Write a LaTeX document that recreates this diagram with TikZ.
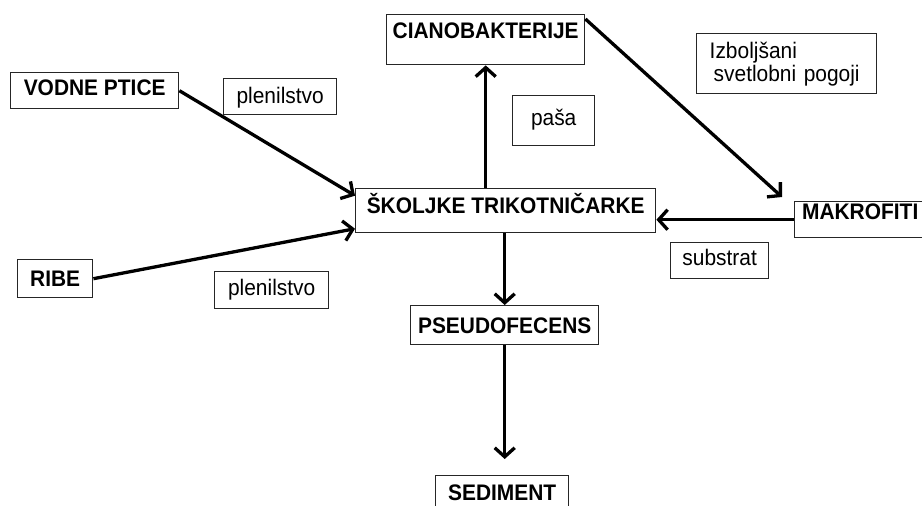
\documentclass[tikz,border=0pt]{standalone}
\usepackage{fontspec}
\setmainfont[FakeStretch=0.93]{Liberation Sans}
\usetikzlibrary{arrows.meta}

\begin{document}
\begin{tikzpicture}[x=1pt, y=-1pt, every node/.style={font=\fontsize{22.5}{23}\selectfont}]
    % Styles
    \tikzstyle{organism} = [rectangle, draw=black!85, line width=1.4pt, font=\fontsize{22.5}{23}\selectfont\bfseries, anchor=north west, inner xsep=0pt, inner ysep=0pt]
    \tikzstyle{relation} = [rectangle, draw=black!85, line width=1.4pt, anchor=north west, inner xsep=0pt, inner ysep=0pt]
    \tikzstyle{flow} = [-{Straight Barb[length=9pt,width=20pt]}, line width=3.3pt]

    \useasboundingbox (0,0) rectangle (922,506);
    \clip (0,0) rectangle (922,506);

    % Nodes
    \node[organism, minimum width=198pt, text height=24pt, text depth=26pt] (cyano) at (386,14) {CIANOBAKTERIJE};
    \node[organism, minimum width=168pt, text height=23pt, text depth=13pt] (birds) at (10,72) {VODNE PTICE};
    \node[organism, minimum width=300pt, text height=25pt, text depth=19pt] (shells) at (355,188) {ŠKOLJKE TRIKOTNIČARKE};
    \node[organism, minimum width=131pt, text height=18pt, text depth=18pt] (makro) at (794,201) {MAKROFITI};
    \node[organism, minimum width=75pt, text height=27pt, text depth=11pt] (fish) at (17,259) {RIBE};
    \node[organism, minimum width=188pt, text height=28pt, text depth=11pt] (pseudo) at (410,305) {PSEUDOFECENS};
    \node[organism, minimum width=133pt, text height=25pt, text depth=15pt] (sediment) at (435,475) {SEDIMENT};

    % Labels
    \node[relation, minimum width=113pt, text height=25pt, text depth=11pt] (plen1) at (223,78) {plenilstvo};
    \node[relation, minimum width=114pt, text height=24pt, text depth=13pt] (plen2) at (214,271) {plenilstvo};
    \node[relation, minimum width=82pt, text height=30pt, text depth=20pt] (pasa) at (512,95) {paša};
    \node[relation, minimum width=98pt, text height=23pt, text depth=13pt] (substrat) at (670,242) {substrat};
    \node[relation, inner xsep=13pt, text width=154pt, minimum height=60pt, align=left] (light) at (696,33) {Izboljšani\\\hspace{4pt}svetlobni pogoji};

    % Connections
    \draw[flow] (cyano.south |- shells.north) -- (cyano.south);
    \draw[flow] (birds.east) -- ([yshift=15pt]shells.west);
    \draw[flow] (fish.east) -- ([yshift=-18pt]shells.west);
    \draw[flow] ([yshift=-5pt]cyano.north east) -- ([xshift=-12pt,yshift=4pt]makro.north west);
    \draw[flow] (makro.west) -- (shells.east |- makro.west);
    \draw[flow] (pseudo.north |- shells.south) -- (pseudo.north);
    \draw[flow, shorten >=16pt] (pseudo.south) -- (pseudo.south |- sediment.north);
\end{tikzpicture}
\end{document}
